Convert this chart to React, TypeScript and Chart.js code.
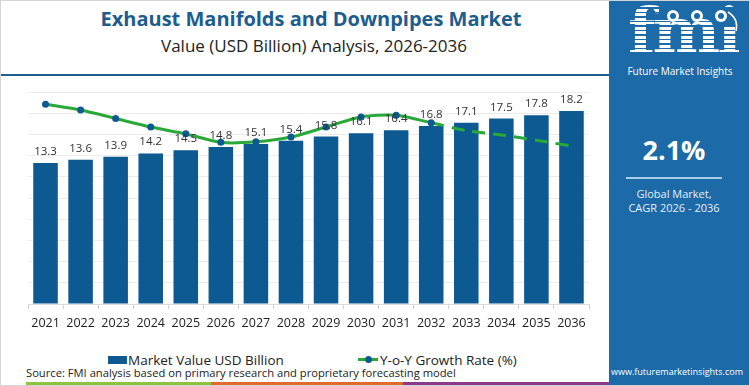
import React, { useEffect, useRef } from "react";
import { Chart, registerables } from "chart.js";

Chart.register(...registerables);

const years = ["2021","2022","2023","2024","2025","2026","2027","2028","2029","2030","2031","2032","2033","2034","2035","2036"];
const marketValues = [13.3,13.6,13.9,14.2,14.5,14.8,15.1,15.4,15.8,16.1,16.4,16.8,17.1,17.5,17.8,18.2];
const yoyGrowth = [3.77,3.66,3.50,3.34,3.21,3.05,3.06,3.15,3.34,3.53,3.56,3.42,3.27,3.19,3.09,2.98];
const forecastStartIndex = 11;
const valueAxisMax = 20;
const valueAxisStep = 2;
const growthAxisMax = 4;

const BAR_COLOR = "#0c5a91";
const LINE_COLOR = "#2aa83a";
const FONT = "'Open Sans', sans-serif";

const barLabelPlugin = {
  id: "barLabels",
  afterDatasetsDraw(chart: any) {
    const ctx = chart.ctx;
    const idx = chart.data.datasets.findIndex((d: any) => d.type === "bar");
    const meta = chart.getDatasetMeta(idx);
    ctx.save();
    ctx.font = "11.5px " + FONT;
    ctx.fillStyle = "#333";
    ctx.textAlign = "center";
    ctx.textBaseline = "alphabetic";
    meta.data.forEach((el: any, i: number) => {
      ctx.fillText(String(chart.data.datasets[idx].data[i]), el.x, el.y - 8);
    });
    ctx.restore();
  },
};

function ChartCanvas() {
  const ref = useRef<HTMLCanvasElement | null>(null);
  useEffect(() => {
    if (!ref.current) return;
    const chart = new Chart(ref.current, {
      data: {
        labels: years,
        datasets: [
          {
            type: "line",
            label: "Y-o-Y Growth Rate (%)",
            data: yoyGrowth,
            yAxisID: "y1",
            borderColor: LINE_COLOR,
            borderWidth: 3,
            tension: 0.25,
            pointRadius: yoyGrowth.map((_, i) => (i <= forecastStartIndex ? 3.5 : 0)),
            pointBackgroundColor: BAR_COLOR,
            pointBorderWidth: 0,
            segment: {
              borderDash: (c: any) => (c.p0DataIndex >= forecastStartIndex ? [13, 8] : undefined),
            },
            order: 0,
          } as any,
          {
            type: "bar",
            label: "Market Value USD Billion",
            data: marketValues,
            yAxisID: "y",
            backgroundColor: BAR_COLOR,
            borderWidth: 0,
            categoryPercentage: 1,
            barPercentage: 0.7,
            order: 1,
          } as any,
        ],
      },
      options: {
        responsive: false,
        animation: false,
        devicePixelRatio: 1,
        layout: { padding: { left: 27, right: 20, top: 91, bottom: 8 } },
        plugins: { legend: { display: false }, tooltip: { enabled: false } },
        scales: {
          x: {
            offset: true,
            grid: { display: true, drawOnChartArea: false, drawTicks: true, tickLength: 5, color: "#cfcfcf", offset: true },
            border: { display: true, color: "#dddddd" },
            ticks: { color: "#222", font: { family: FONT, size: 12.5 }, padding: 7 },
          },
          y: {
            display: true,
            min: 0,
            max: valueAxisMax,
            ticks: { display: false, stepSize: valueAxisStep },
            grid: { color: "#ececec", drawTicks: false },
            border: { display: false },
          },
          y1: {
            display: false,
            min: 0,
            max: growthAxisMax,
          },
        },
      } as any,
      plugins: [barLabelPlugin],
    });
    return () => chart.destroy();
  }, []);
  return (
    <canvas
      ref={ref}
      width={608}
      height={345}
      style={{ position: "absolute", left: 0, top: 0, width: 608, height: 345 }}
    />
  );
}

function Logo() {
  return (
    <div style={{ position: "absolute", left: 0, top: 0, width: 142, height: 90 }}>
      <div
        style={{
          position: "absolute",
          left: 19,
          top: -10,
          fontFamily: "'DejaVu Serif', serif",
          fontWeight: 700,
          fontSize: 64,
          lineHeight: "80px",
          letterSpacing: -3,
          color: "transparent",
          background: "repeating-linear-gradient(to bottom, #ffffff 0px, #ffffff 3px, rgba(255,255,255,0) 3px, rgba(255,255,255,0) 4.5px)",
          WebkitBackgroundClip: "text",
          backgroundClip: "text",
        }}
      >
        fmi
      </div>
      <svg width={142} height={60} style={{ position: "absolute", left: 0, top: 0 }}>
        <rect x={104} y={8} width={22} height={18} fill="#1c6aa8" />
        <circle cx={64} cy={15} r={6} fill="#fff" />
        <circle cx={88} cy={15} r={6} fill="#fff" />
        <circle cx={112} cy={15} r={6} fill="#fff" />
        <circle cx={64} cy={15} r={3} fill="#1c6aa8" />
        <circle cx={88} cy={15} r={3} fill="#1c6aa8" />
        <circle cx={112} cy={15} r={3} fill="#1c6aa8" />
        <path d="M119 11 Q130 18 127 30" stroke="#fff" strokeWidth={1.5} fill="none" />
      </svg>
      <div
        style={{
          position: "absolute",
          left: 0,
          width: 142,
          top: 63,
          textAlign: "center",
          color: "#fff",
          fontFamily: FONT,
          fontSize: 10,
        }}
      >
        Future Market Insights
      </div>
    </div>
  );
}

export default function App() {
  return (
    <div
      style={{
        position: "fixed",
        left: 0,
        top: 0,
        width: 750,
        height: 386,
        background: "#fff",
        overflow: "hidden",
        fontFamily: FONT,
        boxSizing: "border-box",
        border: "1px solid #d4d4d4",
      }}
    >
      <div style={{ position: "absolute", left: 0, top: 5, width: 620, textAlign: "center", fontWeight: 700, fontSize: 20, color: "#1d5d8e", lineHeight: "26px" }}>
        Exhaust Manifolds and Downpipes Market
      </div>
      <div style={{ position: "absolute", left: 0, top: 33, width: 626, textAlign: "center", fontWeight: 400, fontSize: 17, color: "#222", lineHeight: "24px" }}>
        Value (USD Billion) Analysis, 2026-2036
      </div>
      <div style={{ position: "absolute", left: 0, top: 73, width: 610, height: 2, background: "#1e5f8e" }} />

      <ChartCanvas />

      {/* legend */}
      <div style={{ position: "absolute", left: 107, top: 355, width: 19, height: 8, background: BAR_COLOR }} />
      <div style={{ position: "absolute", left: 127, top: 350, fontSize: 13.5, color: "#222", lineHeight: "18px", whiteSpace: "nowrap" }}>
        Market Value USD Billion
      </div>
      <div style={{ position: "absolute", left: 357, top: 357, width: 20, height: 3, background: LINE_COLOR }} />
      <div style={{ position: "absolute", left: 364, top: 355, width: 7, height: 7, borderRadius: 4, background: BAR_COLOR }} />
      <div style={{ position: "absolute", left: 379, top: 350, fontSize: 13.5, color: "#222", lineHeight: "18px", whiteSpace: "nowrap" }}>
        Y-o-Y Growth Rate (%)
      </div>

      <div style={{ position: "absolute", left: 25, top: 364, fontSize: 11.2, color: "#222", lineHeight: "16px", whiteSpace: "nowrap" }}>
        Source: FMI analysis based on primary research and proprietary forecasting model
      </div>
      <div style={{ position: "absolute", left: 25, top: 381, width: 185, height: 3, background: "#8cc43f" }} />
      <div style={{ position: "absolute", left: 210, top: 381, width: 192, height: 3, background: "#df6a2c" }} />
      <div style={{ position: "absolute", left: 402, top: 381, width: 206, height: 3, background: "#8a3a8c" }} />

      {/* right panel */}
      <div style={{ position: "absolute", left: 608, top: 0, width: 142, height: 386, background: "#1c6aa8" }}>
        <Logo />
        <div style={{ position: "absolute", left: 0, width: 130, top: 132, textAlign: "center", color: "#fff", fontWeight: 700, fontSize: 27, lineHeight: "34px" }}>
          2.1%
        </div>
        <div style={{ position: "absolute", left: 17, top: 176, width: 96, height: 1.5, background: "#a9cce8" }} />
        <div style={{ position: "absolute", left: 0, width: 130, top: 186, textAlign: "center", color: "#e6f0f8", fontSize: 11, lineHeight: "14px" }}>
          Global Market,
          <br />
          CAGR 2026 - 2036
        </div>
        <div style={{ position: "absolute", left: 2, top: 364, color: "#fff", fontSize: 9, lineHeight: "14px", whiteSpace: "nowrap" }}>
          www.futuremarketinsights.com
        </div>
      </div>
    </div>
  );
}
